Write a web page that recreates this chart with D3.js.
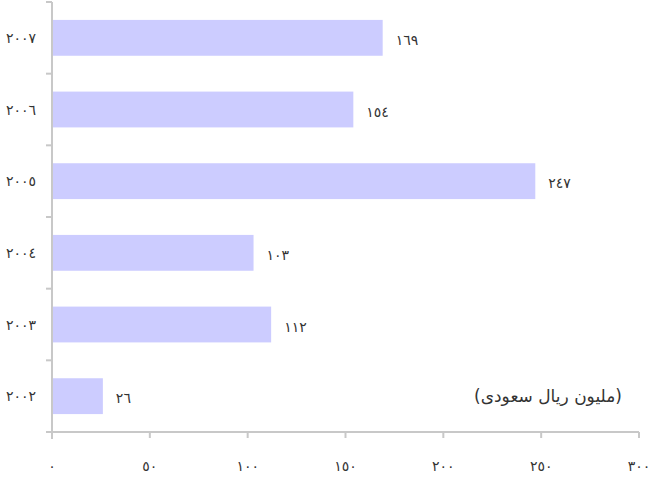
<!DOCTYPE html>
<html>
<head>
<meta charset="utf-8">
<script src="https://cdn.jsdelivr.net/npm/d3@7"></script>
<style>
  body { margin: 0; background: #fff; }
  svg text { font-family: "DejaVu Sans ExtraLight", "DejaVu Sans", sans-serif; fill: #333; }
</style>
</head>
<body>
<svg id="chart"></svg>
<script>
// categories, top to bottom
const years = ["٢٠٠٧", "٢٠٠٦", "٢٠٠٥", "٢٠٠٤", "٢٠٠٣", "٢٠٠٢"];
const values = [169, 154, 247, 103, 112, 26];
const valueLabels = ["١٦٩", "١٥٤", "٢٤٧", "١٠٣", "١١٢", "٢٦"];
const xTicks = [0, 50, 100, 150, 200, 250, 300];
const xTickLabels = ["٠", "٥٠", "١٠٠", "١٥٠", "٢٠٠", "٢٥٠", "٣٠٠"];
const unitLabel = "(مليون ريال سعودى)";

const width = 649, height = 484;
const axisColor = "#c8c8c8";

const svg = d3.select("#chart").attr("width", width).attr("height", height);

const x = d3.scaleLinear().domain([0, 300]).range([52, 639]);
const y = d3.scaleBand().domain(years).range([2, 432]).paddingInner(0.5).paddingOuter(0.25);

// bars
svg.selectAll("rect.bar")
  .data(values)
  .join("rect")
  .attr("class", "bar")
  .attr("x", x(0))
  .attr("y", (d, i) => y(years[i]))
  .attr("width", d => x(d) - x(0))
  .attr("height", y.bandwidth())
  .attr("fill", "#ccccff");

// value labels
svg.selectAll("text.val")
  .data(values)
  .join("text")
  .attr("class", "val")
  .attr("x", d => x(d) + 13)
  .attr("y", (d, i) => y(years[i]) + y.bandwidth() / 2 + 3)
  .attr("dominant-baseline", "middle")
  .attr("font-size", 14)
  .text((d, i) => valueLabels[i]);

// vertical axis line + category separators
const step = y.step();
const bandTop = y.range()[0];
svg.append("line")
  .attr("x1", x(0)).attr("x2", x(0))
  .attr("y1", bandTop).attr("y2", 439)
  .attr("stroke", axisColor).attr("stroke-width", 2);

const sepIdx = d3.range(years.length + 1);
svg.selectAll("line.sep")
  .data(sepIdx)
  .join("line")
  .attr("class", "sep")
  .attr("x1", x(0) - 6).attr("x2", x(0))
  .attr("y1", i => bandTop + i * step).attr("y2", i => bandTop + i * step)
  .attr("stroke", axisColor).attr("stroke-width", 2);

// year labels
svg.selectAll("text.year")
  .data(years)
  .join("text")
  .attr("class", "year")
  .attr("x", 36)
  .attr("y", d => y(d) + y.bandwidth() / 2 + 1)
  .attr("text-anchor", "end")
  .attr("dominant-baseline", "middle")
  .attr("font-size", 14)
  .text(d => d);

// horizontal axis
const xAxisY = 432;
svg.append("line")
  .attr("x1", x(0) - 6).attr("x2", x(300))
  .attr("y1", xAxisY).attr("y2", xAxisY)
  .attr("stroke", axisColor).attr("stroke-width", 2);

svg.selectAll("line.xtick")
  .data(xTicks)
  .join("line")
  .attr("class", "xtick")
  .attr("x1", d => x(d)).attr("x2", d => x(d))
  .attr("y1", xAxisY).attr("y2", xAxisY + 6)
  .attr("stroke", axisColor).attr("stroke-width", 2);

svg.selectAll("text.xlab")
  .data(xTicks)
  .join("text")
  .attr("class", "xlab")
  .attr("x", d => x(d))
  .attr("y", 467)
  .attr("text-anchor", "middle")
  .attr("dominant-baseline", "middle")
  .attr("font-size", 14)
  .text((d, i) => xTickLabels[i]);

// unit note
svg.append("text")
  .attr("x", 548)
  .attr("y", 397)
  .attr("direction", "rtl")
  .attr("text-anchor", "middle")
  .attr("dominant-baseline", "middle")
  .attr("font-size", 17)
  .text(unitLabel);
</script>
</body>
</html>
